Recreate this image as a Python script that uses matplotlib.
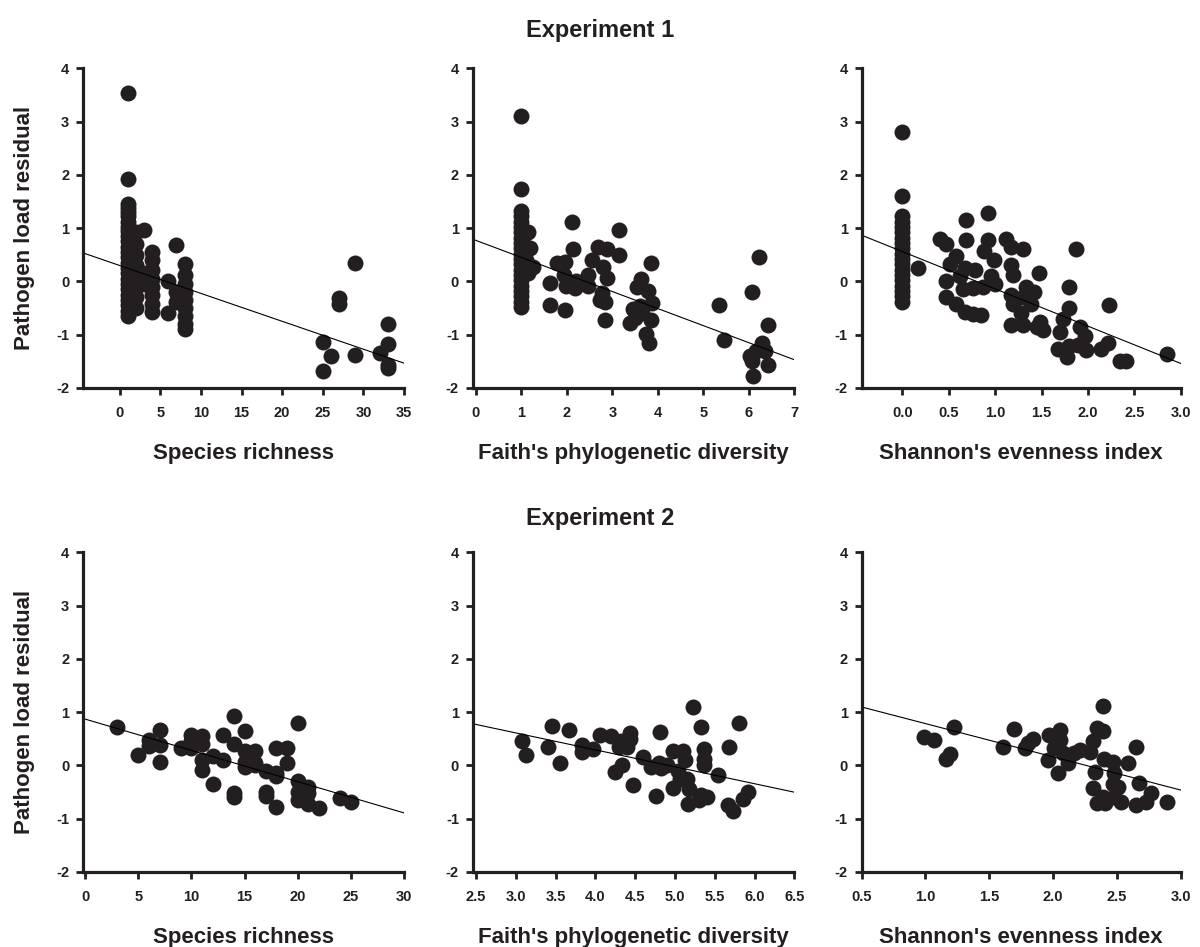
import matplotlib.pyplot as plt
from matplotlib.ticker import FormatStrFormatter

plt.rcParams['font.family'] = ['Liberation Sans', 'DejaVu Sans']
plt.rcParams['font.weight'] = 'bold'
plt.rcParams['axes.unicode_minus'] = False

# ---- Experiment 1 ----
# species richness
e1_rich_x = [1, 1, 1, 1, 1, 1, 1, 1, 1, 1, 1, 1, 1, 1, 1, 1, 1, 1, 1, 1, 1, 1, 1, 1, 1,
             2, 2, 2, 2, 2, 2, 2, 2,
             3, 3, 3,
             4, 4, 4, 4, 4, 4, 4, 4,
             6, 6,
             7, 7, 7,
             8, 8, 8, 8, 8, 8, 8, 8, 8,
             25, 25, 26, 27, 27, 29, 29, 32, 33, 33, 33, 33]
e1_rich_y = [3.53, 1.93, 1.45, 1.38, 1.30, 1.22, 1.12, 1.02, 0.95, 0.85, 0.75, 0.65, 0.55,
             0.45, 0.35, 0.25, 0.15, 0.05, -0.05, -0.15, -0.25, -0.35, -0.45, -0.55, -0.65,
             0.92, 0.70, 0.50, 0.30, 0.10, -0.10, -0.30, -0.50,
             0.97, 0.15, -0.05,
             0.55, 0.40, 0.22, 0.05, -0.10, -0.25, -0.42, -0.58,
             0.00, -0.60,
             0.69, -0.20, -0.38,
             0.33, 0.12, -0.05, -0.20, -0.35, -0.50, -0.65, -0.80, -0.90,
             -1.13, -1.69, -1.40, -0.32, -0.42, 0.35, -1.38, -1.35, -0.80, -1.18, -1.57, -1.63]

# Faith's phylogenetic diversity
e1_pd_x = [1.0, 1.0, 1.0, 1.0, 1.0, 1.0, 1.0, 1.0, 1.0, 1.0, 1.0, 1.0, 1.0, 1.0, 1.0,
           1.0, 1.0, 1.0, 1.0, 1.0, 1.0,
           1.07, 1.15, 1.18, 1.26, 1.15, 1.10,
           1.62, 1.62, 1.78, 1.95, 1.93, 1.95, 2.10, 2.14, 1.98, 2.17, 2.20, 2.46, 2.46,
           2.54, 2.68, 2.87, 2.79, 2.87, 2.76, 2.83, 2.83, 2.72, 3.14, 3.15,
           3.45, 3.38, 3.50, 3.63, 3.55, 3.78, 3.85, 3.88, 3.85, 3.74, 3.80, 3.65, 3.60,
           5.35, 5.46, 6.07, 6.22, 6.03, 6.07, 6.10, 6.15, 6.29, 6.36, 6.41, 6.41]
e1_pd_y = [3.10, 1.74, 1.32, 1.22, 1.12, 1.02, 0.92, 0.82, 0.72, 0.62, 0.52, 0.42, 0.32,
           0.22, 0.12, 0.02, -0.08, -0.18, -0.28, -0.38, -0.48,
           0.90, 0.93, 0.62, 0.27, 0.15, 0.40,
           -0.02, -0.45, 0.34, 0.36, 0.12, -0.54, 1.12, 0.60, -0.08, -0.13, 0.00, -0.09, 0.12,
           0.40, 0.64, 0.60, 0.27, 0.06, -0.22, -0.38, -0.72, -0.35, 0.96, 0.49,
           -0.52, -0.78, -0.68, 0.05, -0.10, -0.18, 0.34, -0.40, -0.73, -0.98, -1.16, -0.60, -0.47,
           -0.45, -1.10, -0.20, 0.46, -1.40, -1.50, -1.77, -1.30, -1.15, -1.30, -0.82, -1.57]

# Shannon's evenness index
e1_sh_x = [0.0, 0.0, 0.0, 0.0, 0.0, 0.0, 0.0, 0.0, 0.0, 0.0, 0.0, 0.0, 0.0, 0.0, 0.0,
           0.0, 0.0, 0.0, 0.0,
           0.17, 0.41, 0.47, 0.47, 0.47, 0.51, 0.58, 0.69, 0.69, 0.67, 0.62, 0.65, 0.58,
           0.67, 0.76, 0.85, 0.78, 0.76, 0.87, 0.92, 0.92, 0.88, 0.99, 0.95, 1.00,
           1.12, 1.17, 1.30, 1.17, 1.19, 1.17, 1.19, 1.30, 1.33, 1.42, 1.39, 1.17, 1.30,
           1.28, 1.47, 1.48, 1.52, 1.45, 1.70, 1.73, 1.80, 1.80, 1.87, 1.68, 1.77, 1.79,
           1.91, 1.97, 1.89, 1.98, 2.14, 2.22, 2.23, 2.34, 2.41, 2.85]
e1_sh_y = [2.80, 1.60, 1.22, 1.12, 1.02, 0.92, 0.82, 0.72, 0.62, 0.52, 0.42, 0.32, 0.22,
           0.12, 0.02, -0.08, -0.18, -0.28, -0.38,
           0.26, 0.80, 0.70, 0.00, -0.30, 0.33, 0.48, 1.16, 0.77, 0.25, 0.10, -0.15, -0.42,
           -0.58, -0.62, -0.63, 0.22, -0.12, -0.10, 1.29, 0.77, 0.58, 0.40, 0.10, -0.05,
           0.80, 0.64, 0.60, 0.30, 0.12, -0.25, -0.42, -0.30, -0.10, -0.20, -0.42, -0.82, -0.82,
           -0.60, 0.15, -0.76, -0.92, -0.86, -0.95, -0.70, -0.50, -0.10, 0.61, -1.26, -1.41, -1.22,
           -0.85, -1.03, -1.20, -1.28, -1.26, -1.16, -0.45, -1.50, -1.50, -1.37]

# ---- Experiment 2 ----
e2_rich_x = [3, 5, 6, 6, 7, 7, 7, 9, 10, 10, 10, 11, 11, 11, 11, 12, 12, 13, 13,
             14, 14, 14, 14, 15, 15, 15, 15, 16, 16, 16, 17, 17, 17, 18, 18, 18, 18,
             19, 19, 20, 20, 20, 20, 21, 21, 21, 22, 24, 25]
e2_rich_y = [0.72, 0.20, 0.47, 0.37, 0.66, 0.38, 0.06, 0.32, 0.58, 0.45, 0.33, 0.55, 0.40,
             0.10, -0.08, 0.17, -0.35, 0.57, 0.10, 0.93, 0.40, -0.52, -0.60, 0.65, 0.27,
             0.07, -0.02, 0.27, 0.05, 0.00, -0.10, -0.50, -0.58, 0.32, -0.20, -0.15, -0.78,
             0.32, 0.04, 0.79, -0.30, -0.50, -0.65, -0.40, -0.52, -0.72, -0.80, -0.62, -0.68]

e2_pd_x = [3.08, 3.13, 3.41, 3.45, 3.56, 3.67, 3.83, 3.83, 3.97, 4.06, 4.20, 4.30, 4.32,
           4.43, 4.44, 4.40, 4.25, 4.33, 4.47, 4.60, 4.70, 4.80, 4.81, 4.83, 4.90, 4.76,
           4.97, 4.97, 5.04, 5.10, 5.13, 5.06, 5.15, 5.17, 5.16, 5.23, 5.33, 5.37, 5.37,
           5.37, 5.33, 5.30, 5.40, 5.54, 5.68, 5.81, 5.66, 5.73, 5.86, 5.92]
e2_pd_y = [0.45, 0.20, 0.35, 0.75, 0.05, 0.67, 0.38, 0.25, 0.30, 0.58, 0.55, 0.35, 0.45,
           0.60, 0.50, 0.35, -0.12, 0.00, -0.37, 0.15, -0.03, 0.05, 0.63, -0.05, 0.00, -0.57,
           0.27, -0.42, -0.10, 0.28, 0.10, -0.25, -0.25, -0.45, -0.72, 1.10, 0.72, 0.30, 0.12,
           0.00, -0.55, -0.65, -0.60, -0.17, 0.35, 0.80, -0.75, -0.86, -0.63, -0.50]

e2_sh_x = [0.99, 1.07, 1.16, 1.19, 1.22, 1.61, 1.69, 1.78, 1.80, 1.84, 1.97, 1.96, 2.01,
           2.05, 2.05, 2.04, 2.08, 2.12, 2.12, 2.16, 2.21, 2.29, 2.31, 2.34, 2.39, 2.39,
           2.33, 2.40, 2.31, 2.34, 2.39, 2.41, 2.47, 2.48, 2.51, 2.48, 2.53, 2.47, 2.59,
           2.65, 2.67, 2.65, 2.73, 2.77, 2.89]
e2_sh_y = [0.54, 0.48, 0.13, 0.22, 0.73, 0.35, 0.69, 0.32, 0.42, 0.50, 0.58, 0.10, 0.32,
           0.67, 0.48, -0.15, 0.23, 0.04, 0.17, 0.23, 0.29, 0.26, 0.45, 0.70, 1.11, 0.64,
           -0.12, 0.13, -0.43, -0.71, -0.59, -0.71, 0.07, -0.15, -0.40, -0.59, -0.68, -0.35, 0.04,
           0.35, -0.33, -0.75, -0.68, -0.52, -0.68]

# regression lines
fit_intercept = [0.30, 0.77, 0.56, 0.87, 1.565, 1.41]
fit_slope = [-0.0524, -0.32, -0.70, -0.0587, -0.318, -0.624]

xlabels = ['Species richness', "Faith's phylogenetic diversity", "Shannon's evenness index"]

panels = [
    (e1_rich_x, e1_rich_y, (-4.5, 35), list(range(0, 36, 5)), '%d'),
    (e1_pd_x, e1_pd_y, (-0.07, 7), list(range(0, 8)), '%d'),
    (e1_sh_x, e1_sh_y, (-0.44, 3.0), [0.0, 0.5, 1.0, 1.5, 2.0, 2.5, 3.0], '%.1f'),
    (e2_rich_x, e2_rich_y, (-0.2, 30), list(range(0, 31, 5)), '%d'),
    (e2_pd_x, e2_pd_y, (2.46, 6.5), [2.5, 3.0, 3.5, 4.0, 4.5, 5.0, 5.5, 6.0, 6.5], '%.1f'),
    (e2_sh_x, e2_sh_y, (0.5, 3.0), [0.5, 1.0, 1.5, 2.0, 2.5, 3.0], '%.1f'),
]

fig = plt.figure(figsize=(12, 9.47), dpi=100)
lefts = [0.0692, 0.394, 0.718]
widths = [0.2675, 0.268, 0.266]
bottoms = [0.5903, 0.0792]
height = 0.3375
dark = '#231f20'

for i, (xs, ys, xlim, xticks, fmt) in enumerate(panels):
    row, col = divmod(i, 3)
    ax = fig.add_axes([lefts[col], bottoms[row], widths[col], height])
    ax.plot(xs, ys, 'o', ms=11.5, color=dark, mec='none')
    ax.plot(list(xlim), [fit_intercept[i] + fit_slope[i] * v for v in xlim],
            color='black', lw=0.8)
    ax.set_xlim(*xlim)
    ax.set_ylim(-2, 4)
    ax.set_yticks(range(-2, 5))
    ax.set_xticks(xticks)
    ax.xaxis.set_major_formatter(FormatStrFormatter(fmt))
    for s in ['top', 'right']:
        ax.spines[s].set_visible(False)
    for s in ['left', 'bottom']:
        ax.spines[s].set_linewidth(2.3)
        ax.spines[s].set_color(dark)
    ax.tick_params(direction='out', length=5, width=2.0, colors=dark,
                   labelsize=10.5, pad=5)
    ax.tick_params(axis='x', pad=8)
    for lab in ax.get_xticklabels() + ax.get_yticklabels():
        lab.set_fontweight('bold')
    ax.set_xlabel(xlabels[col], fontsize=16, fontweight='bold', labelpad=16.5, color=dark)
    if col == 0:
        ax.set_ylabel('Pathogen load residual', fontsize=16, fontweight='bold',
                      labelpad=15, color=dark)

fig.text(0.5, 0.968, 'Experiment 1', ha='center', va='center', fontsize=17,
         fontweight='bold', color=dark)
fig.text(0.5, 0.453, 'Experiment 2', ha='center', va='center', fontsize=17,
         fontweight='bold', color=dark)

fig.savefig('out.png', dpi=100)
